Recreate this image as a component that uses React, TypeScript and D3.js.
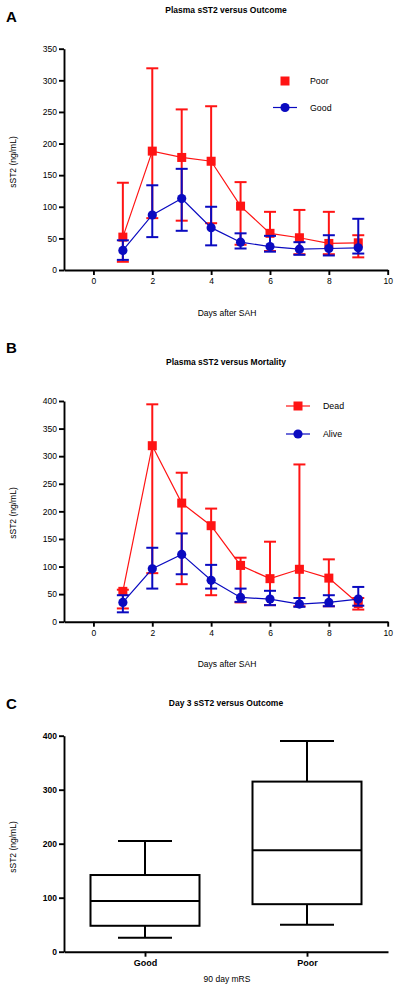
import React, { useEffect, useRef } from "react";
import * as d3 from "d3";

// ---- Data ----
const days = [1, 2, 3, 4, 5, 6, 7, 8, 9];

// Panel A: Outcome
const poorMean = [52, 188, 178, 172, 101, 58, 51, 42, 43];
const poorUpper = [138, 319, 254, 259, 139, 92, 95, 92, 55];
const poorLower = [13, 82, 78, 74, 40, 30, 25, 25, 20];
const goodMean = [31, 87, 113, 67, 44, 37, 33, 34, 35];
const goodUpper = [47, 134, 160, 100, 58, 54, 44, 55, 81];
const goodLower = [16, 52, 62, 39, 34, 29, 24, 23, 26];

// Panel B: Mortality
const deadMean = [55, 319, 215, 174, 102, 78, 95, 79, 33];
const deadUpper = [58, 394, 270, 205, 116, 145, 285, 113, 43];
const deadLower = [24, 88, 68, 48, 35, 30, 28, 28, 22];
const aliveMean = [35, 96, 122, 75, 44, 41, 32, 35, 41];
const aliveUpper = [48, 134, 160, 103, 60, 56, 43, 48, 63];
const aliveLower = [17, 60, 86, 60, 36, 30, 27, 28, 29];

// Panel C: Day 3 box plot
const boxCategories = ["Good", "Poor"];
const boxMin = [26, 50];
const boxQ1 = [48, 88];
const boxMedian = [94, 188];
const boxQ3 = [142, 315];
const boxMax = [205, 390];

const xTicks = [0, 2, 4, 6, 8, 10];
const yTicksA = [0, 50, 100, 150, 200, 250, 300, 350];
const yTicksB = [0, 50, 100, 150, 200, 250, 300, 350, 400];
const yTicksC = [0, 100, 200, 300, 400];

const RED = "#ff1414";
const BLUE = "#0a0ac0";
const FONT = "'Liberation Sans', Arial, Helvetica, sans-serif";

type Series = { mean: number[]; upper: number[]; lower: number[]; color: string; shape: "square" | "circle" };

export default function App() {
  const ref = useRef<SVGSVGElement>(null);

  useEffect(() => {
    const svg = d3.select(ref.current);
    svg.selectAll("*").remove();

    const text = (x: number, y: number, s: string, size: number, bold = false, anchor = "middle") =>
      svg
        .append("text")
        .attr("x", x)
        .attr("y", y)
        .attr("text-anchor", anchor)
        .attr("font-family", FONT)
        .attr("font-size", size)
        .attr("font-weight", bold ? "bold" : "normal")
        .attr("fill", "#000")
        .text(s);

    const styleAxis = (g: any, bold = false) => {
      g.select(".domain").attr("stroke", "#000").attr("stroke-width", 1.9);
      g.selectAll(".tick line").attr("stroke", "#000").attr("stroke-width", 1.9);
      g.selectAll(".tick text")
        .attr("font-family", FONT)
        .attr("font-size", 8.5)
        .attr("font-weight", bold ? "bold" : "normal")
        .attr("fill", "#000");
    };

    const linePanel = (
      top: number,
      bottom: number,
      yMax: number,
      yTicks: number[],
      series: Series[],
    ) => {
      const x = d3.scaleLinear().domain([-1, 10]).range([64, 387.7]);
      const y = d3.scaleLinear().domain([0, yMax]).range([bottom, top]);

      const gx = svg
        .append("g")
        .attr("transform", `translate(0,${bottom})`)
        .call(d3.axisBottom(x).tickValues(xTicks).tickSize(5).tickSizeOuter(0).tickPadding(3));
      styleAxis(gx);
      const gy = svg
        .append("g")
        .attr("transform", `translate(64,0)`)
        .call(d3.axisLeft(y).tickValues(yTicks).tickSize(5).tickSizeOuter(0).tickPadding(2));
      styleAxis(gy);

      series.forEach((s) => {
        const g = svg.append("g");
        const pts = days.map((d, i) => [x(d), y(s.mean[i])] as [number, number]);
        g.append("path")
          .attr("d", d3.line()(pts))
          .attr("fill", "none")
          .attr("stroke", s.color)
          .attr("stroke-width", 1.2);
        days.forEach((d, i) => {
          const cx = x(d);
          const yu = y(s.upper[i]);
          const yl = y(s.lower[i]);
          g.append("line").attr("x1", cx).attr("x2", cx).attr("y1", yu).attr("y2", yl)
            .attr("stroke", s.color).attr("stroke-width", 2);
          [yu, yl].forEach((yy) =>
            g.append("line").attr("x1", cx - 6).attr("x2", cx + 6).attr("y1", yy).attr("y2", yy)
              .attr("stroke", s.color).attr("stroke-width", 2),
          );
        });
        days.forEach((d, i) => {
          const cx = x(d);
          const cy = y(s.mean[i]);
          if (s.shape === "square") {
            g.append("rect").attr("x", cx - 4.5).attr("y", cy - 4.5).attr("width", 9).attr("height", 9).attr("fill", s.color);
          } else {
            g.append("circle").attr("cx", cx).attr("cy", cy).attr("r", 4.6).attr("fill", s.color);
          }
        });
      });
    };

    const legendItem = (cx: number, cy: number, label: string, color: string, shape: "square" | "circle", withLine: boolean) => {
      if (withLine) {
        svg.append("line").attr("x1", cx - 12).attr("x2", cx + 12).attr("y1", cy).attr("y2", cy)
          .attr("stroke", color).attr("stroke-width", 1.2);
      }
      if (shape === "square") {
        svg.append("rect").attr("x", cx - 4.5).attr("y", cy - 4.5).attr("width", 9).attr("height", 9).attr("fill", color);
      } else {
        svg.append("circle").attr("cx", cx).attr("cy", cy).attr("r", 4.6).attr("fill", color);
      }
      text(cx + 25, cy + 3, label, 8.8, false, "start");
    };

    // ---- Panel A ----
    text(6, 22, "A", 15, true, "start");
    text(226, 13, "Plasma sST2 versus Outcome", 8.5, true);
    linePanel(48.7, 270, 350, yTicksA, [
      { mean: poorMean, upper: poorUpper, lower: poorLower, color: RED, shape: "square" },
      { mean: goodMean, upper: goodUpper, lower: goodLower, color: BLUE, shape: "circle" },
    ]);
    legendItem(285, 81, "Poor", RED, "square", false);
    legendItem(285, 107.5, "Good", BLUE, "circle", true);
    text(227, 316, "Days after SAH", 8.5);
    text(0, 0, "sST2 (ng/mL)", 8.5).attr("transform", "translate(16,162) rotate(-90)");

    // ---- Panel B ----
    text(6, 353, "B", 15, true, "start");
    text(226, 365, "Plasma sST2 versus Mortality", 8.5, true);
    linePanel(401, 621.7, 400, yTicksB, [
      { mean: deadMean, upper: deadUpper, lower: deadLower, color: RED, shape: "square" },
      { mean: aliveMean, upper: aliveUpper, lower: aliveLower, color: BLUE, shape: "circle" },
    ]);
    legendItem(298, 406, "Dead", RED, "square", true);
    legendItem(298, 434, "Alive", BLUE, "circle", true);
    text(227, 667, "Days after SAH", 8.5);
    text(0, 0, "sST2 (ng/mL)", 8.5).attr("transform", "translate(16,513) rotate(-90)");

    // ---- Panel C ----
    text(6, 709, "C", 15, true, "start");
    text(226, 706, "Day 3 sST2 versus Outcome", 8.5, true);
    const xc = d3.scalePoint<string>().domain(boxCategories).range([64, 388]).padding(0.5);
    const yc = d3.scaleLinear().domain([0, 400]).range([951.7, 735.7]);
    const gxc = svg
      .append("g")
      .attr("transform", `translate(0,951.7)`)
      .call(d3.axisBottom(xc).tickSize(5).tickSizeOuter(0).tickPadding(3));
    styleAxis(gxc, true);
    gxc.selectAll(".tick text").attr("font-size", 9);
    const gyc = svg
      .append("g")
      .attr("transform", `translate(64,0)`)
      .call(d3.axisLeft(yc).tickValues(yTicksC).tickSize(5).tickSizeOuter(0).tickPadding(2));
    styleAxis(gyc, true);

    const boxW = 109;
    const capW = 54;
    boxCategories.forEach((c, i) => {
      const cx = xc(c)!;
      const g = svg.append("g").attr("stroke", "#000").attr("stroke-width", 2).attr("fill", "none");
      g.append("line").attr("x1", cx).attr("x2", cx).attr("y1", yc(boxMax[i])).attr("y2", yc(boxQ3[i]));
      g.append("line").attr("x1", cx).attr("x2", cx).attr("y1", yc(boxQ1[i])).attr("y2", yc(boxMin[i]));
      g.append("line").attr("x1", cx - capW / 2).attr("x2", cx + capW / 2).attr("y1", yc(boxMax[i])).attr("y2", yc(boxMax[i]));
      g.append("line").attr("x1", cx - capW / 2).attr("x2", cx + capW / 2).attr("y1", yc(boxMin[i])).attr("y2", yc(boxMin[i]));
      g.append("rect")
        .attr("x", cx - boxW / 2)
        .attr("y", yc(boxQ3[i]))
        .attr("width", boxW)
        .attr("height", yc(boxQ1[i]) - yc(boxQ3[i]));
      g.append("line").attr("x1", cx - boxW / 2).attr("x2", cx + boxW / 2).attr("y1", yc(boxMedian[i])).attr("y2", yc(boxMedian[i]));
    });
    text(227, 982, "90 day mRS", 8.5);
    text(0, 0, "sST2 (ng/mL)", 8.5).attr("transform", "translate(16,847) rotate(-90)");
  }, []);

  return (
    <svg
      ref={ref}
      width={400}
      height={990}
      style={{ position: "absolute", left: 0, top: 0, background: "#fff" }}
    />
  );
}
